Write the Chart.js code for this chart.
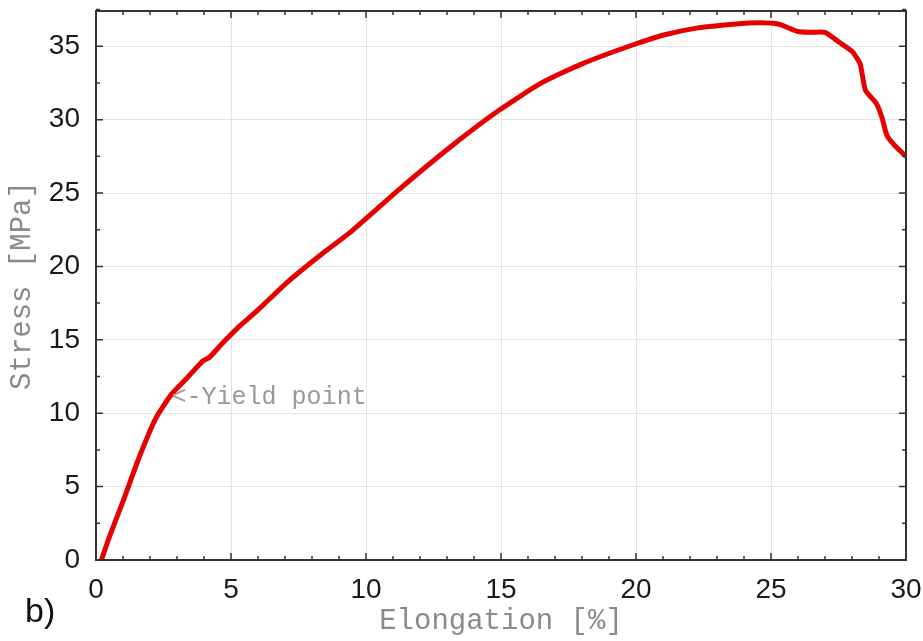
<!DOCTYPE html>
<html>
<head>
<meta charset="utf-8">
<script src="https://cdn.jsdelivr.net/npm/chart.js@4/dist/chart.umd.min.js"></script>
<style>
  html, body { margin: 0; padding: 0; background: #fff; }
  #wrap { width: 923px; height: 641px; position: relative; }
</style>
</head>
<body>
<div id="wrap"><canvas id="chart"></canvas></div>
<script>
// Elongation [%] and stress [MPa]
var elongation = [0.2, 0.5, 1.0, 1.6, 2.2, 2.8, 3.4, 3.95, 4.2, 4.7, 5.3, 5.95, 7.1, 8.4, 9.4, 11.2, 13.1,
    14.9, 16.5, 18.0, 19.9, 21.1, 22.3, 23.6, 24.6, 25.3, 26.0, 26.5, 27.0, 27.5, 28.0, 28.3, 28.5,
    28.9, 29.1, 29.3, 29.6, 30.0];
var stress = [0, 1.6, 4.0, 7.0, 9.6, 11.3, 12.45, 13.55, 13.8, 14.8, 15.9, 16.95, 18.95, 20.9, 22.3, 25.2, 28.1,
    30.6, 32.5, 33.8, 35.1, 35.8, 36.25, 36.5, 36.6, 36.5, 36.0, 35.95, 35.95, 35.3, 34.65, 33.8, 32.0,
    31.1, 30.2, 28.9, 28.2, 27.5];

var xTicks = [0, 5, 10, 15, 20, 25, 30];
var yTicks = [0, 5, 10, 15, 20, 25, 30, 35];
var yieldLabel = { x: 2.8, y: 11.1, text: '<-Yield point' };
var panelLabel = 'b)';

var points = elongation.map(function(x, i) {
    return { x: x, y: stress[i] };
});

// frame, inward minor/major ticks on all four sides, annotation text
var framePlugin = {
    id: 'frame',
    afterDraw: function(chart) {
        var ctx = chart.ctx;
        var a = chart.chartArea;
        var xs = chart.scales.x, ys = chart.scales.y;
        ctx.save();
        ctx.strokeStyle = '#333';
        ctx.lineWidth = 1.5;
        var v, px, len;
        for (v = 0; v <= 30; v += 1) {
            px = xs.getPixelForValue(v);
            len = (v % 5 === 0) ? 7 : 4;
            ctx.beginPath();
            ctx.moveTo(px, a.bottom); ctx.lineTo(px, a.bottom - len);
            ctx.moveTo(px, a.top); ctx.lineTo(px, a.top + len);
            ctx.stroke();
        }
        for (v = 0; v <= 37.5; v += 2.5) {
            px = ys.getPixelForValue(v);
            len = (v % 5 === 0) ? 7 : 4;
            ctx.beginPath();
            ctx.moveTo(a.left, px); ctx.lineTo(a.left + len, px);
            ctx.moveTo(a.right, px); ctx.lineTo(a.right - len, px);
            ctx.stroke();
        }
        ctx.lineWidth = 2;
        ctx.strokeRect(a.left, a.top, a.right - a.left, a.bottom - a.top);

        ctx.fillStyle = '#999';
        ctx.font = '25px "Liberation Mono", monospace';
        ctx.textAlign = 'left';
        ctx.textBaseline = 'middle';
        ctx.fillText(yieldLabel.text, xs.getPixelForValue(yieldLabel.x), ys.getPixelForValue(yieldLabel.y));

        ctx.fillStyle = '#111';
        ctx.font = '34px "Liberation Sans", Arial, sans-serif';
        ctx.fillText(panelLabel, 25, 613);
        ctx.restore();
    }
};

var ctx = document.getElementById('chart').getContext('2d');
var chart = new Chart(ctx, {
    type: 'line',
    data: {
        datasets: [{
            data: points,
            borderColor: '#e60000',
            borderWidth: 5,
            pointRadius: 0,
            tension: 0.2,
            fill: false
        }]
    },
    plugins: [framePlugin],
    options: {
        responsive: true,
        maintainAspectRatio: false,
        animation: false,
        layout: { padding: { top: 11, right: 17, left: 0, bottom: 0 } },
        plugins: {
            legend: { display: false },
            tooltip: { enabled: false }
        },
        scales: {
            x: {
                type: 'linear',
                min: 0,
                max: 30,
                afterFit: function(scale) {
                    scale.height = 81;
                    scale.paddingLeft = 0;
                    scale.paddingRight = 0;
                },
                afterBuildTicks: function(scale) {
                    scale.ticks = xTicks.map(function(v) { return { value: v }; });
                },
                grid: { color: '#e4e4e4', lineWidth: 1, drawTicks: false },
                border: { display: false },
                ticks: {
                    padding: 13,
                    maxRotation: 0,
                    color: '#1a1a1a',
                    font: { family: '"Liberation Sans", Arial, sans-serif', size: 28 }
                },
                title: {
                    display: true,
                    text: 'Elongation [%]',
                    color: '#8a8a8a',
                    padding: { top: 0, bottom: 2 },
                    font: { family: '"Liberation Mono", monospace', size: 29 }
                }
            },
            y: {
                type: 'linear',
                min: 0,
                max: 37.4,
                afterFit: function(scale) {
                    scale.width = 96;
                    scale.paddingTop = 0;
                    scale.paddingBottom = 0;
                },
                afterBuildTicks: function(scale) {
                    scale.ticks = yTicks.map(function(v) { return { value: v }; });
                },
                grid: { color: '#e4e4e4', lineWidth: 1, drawTicks: false },
                border: { display: false },
                ticks: {
                    padding: 16,
                    color: '#1a1a1a',
                    font: { family: '"Liberation Sans", Arial, sans-serif', size: 28 }
                },
                title: {
                    display: true,
                    text: 'Stress [MPa]',
                    color: '#8a8a8a',
                    padding: { top: 5, bottom: 0 },
                    font: { family: '"Liberation Mono", monospace', size: 29 }
                }
            }
        }
    }
});
</script>
</body>
</html>
